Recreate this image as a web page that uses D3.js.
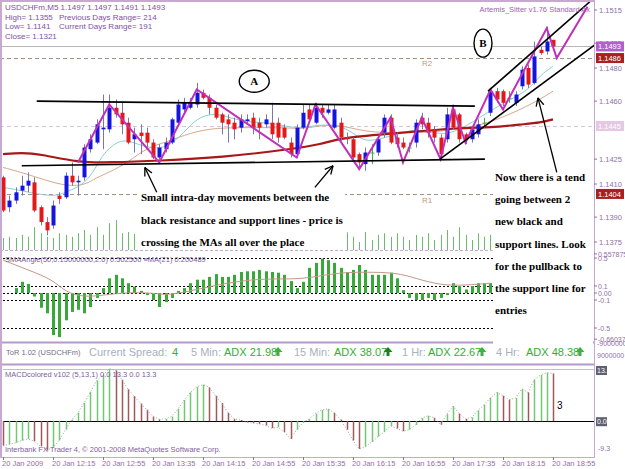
<!DOCTYPE html>
<meta charset="utf-8">
<style>
    body { margin: 0; background: #fff; }
    svg text { font-family: "Liberation Sans", Arial, sans-serif; }
    .note { font-family: "Liberation Serif", "Times New Roman", serif; font-weight: bold; font-size: 11px; fill: #000; }
</style>
<svg width="625" height="469"></svg>
<script src="https://cdn.jsdelivr.net/npm/d3@7"></script>
<script>

    // ---- data (M5 bars, 20 Jan 11:35 .. 18:55) ----
    const open = [
        1.1414,1.1396,1.1400,1.1406,1.1409,1.1411,1.1396,1.1387,1.1385,1.1403,
        1.1402,1.1415,1.1411,1.1414,1.1431,1.1435,1.1443,1.1443,1.1456,1.1453,
        1.1447,1.1437,1.1441,1.1441,1.1435,1.1426,1.1431,1.1435,1.1447,1.1455,
        1.1456,1.1458,1.1465,1.1462,1.1456,1.1452,1.1449,1.1447,1.1444,1.1448,
        1.1450,1.1447,1.1446,1.1447,1.1447,1.1444,1.1435,1.1428,1.1444,1.1455,
        1.1447,1.1456,1.1453,1.1444,1.1447,1.1438,1.1437,1.1428,1.1422,1.1429,
        1.1429,1.1441,1.1450,1.1438,1.1435,1.1432,1.1435,1.1450,1.1447,1.1443,
        1.1438,1.1437,1.1455,1.1452,1.1440,1.1437,1.1440,1.1447,1.1453,1.1466,
        1.1466,1.1462,1.1459,1.1469,1.1480,1.1471,1.1491,1.1490,1.1497];
    const high = [
        1.1415,1.1403,1.1408,1.1415,1.1417,1.1414,1.1397,1.1390,1.1400,1.1405,
        1.1417,1.1423,1.1415,1.1434,1.1440,1.1449,1.1464,1.1464,1.1461,1.1459,
        1.1450,1.1444,1.1446,1.1444,1.1437,1.1434,1.1438,1.1450,1.1461,1.1462,
        1.1462,1.1471,1.1467,1.1464,1.1458,1.1453,1.1452,1.1450,1.1452,1.1452,
        1.1453,1.1450,1.1452,1.1459,1.1450,1.1446,1.1438,1.1446,1.1458,1.1458,
        1.1459,1.1458,1.1458,1.1458,1.1450,1.1441,1.1438,1.1429,1.1432,1.1434,
        1.1438,1.1452,1.1452,1.1441,1.1438,1.1435,1.1449,1.1453,1.1450,1.1445,
        1.1440,1.1456,1.1458,1.1453,1.1441,1.1444,1.1449,1.1450,1.1468,1.1468,
        1.1467,1.1466,1.1466,1.1481,1.1482,1.1496,1.1493,1.1505,1.1497];
    const low = [
        1.1393,1.1393,1.1398,1.1403,1.1405,1.1393,1.1385,1.1379,1.1383,1.1398,
        1.1401,1.1409,1.1403,1.1412,1.1429,1.1434,1.1431,1.1441,1.1450,1.1440,
        1.1434,1.1429,1.1428,1.1432,1.1425,1.1423,1.1429,1.1434,1.1446,1.1453,
        1.1455,1.1456,1.1461,1.1452,1.1449,1.1440,1.1435,1.1437,1.1441,1.1446,
        1.1440,1.1437,1.1444,1.1437,1.1435,1.1437,1.1426,1.1426,1.1443,1.1447,
        1.1446,1.1450,1.1452,1.1443,1.1436,1.1434,1.1425,1.1420,1.1418,1.1422,
        1.1427,1.1438,1.1434,1.1432,1.1431,1.1429,1.1432,1.1443,1.1438,1.1435,
        1.1425,1.1435,1.1443,1.1435,1.1434,1.1435,1.1438,1.1444,1.1451,1.1459,
        1.1457,1.1459,1.1457,1.1467,1.1468,1.1470,1.1488,1.1488,1.1491];
    const close = [
        1.1394,1.1400,1.1405,1.1409,1.1412,1.1394,1.1387,1.1382,1.1397,1.1401,
        1.1415,1.1411,1.1412,1.1432,1.1437,1.1446,1.1444,1.1456,1.1452,1.1446,
        1.1435,1.1440,1.1439,1.1435,1.1426,1.1432,1.1435,1.1449,1.1458,1.1459,
        1.1459,1.1465,1.1462,1.1456,1.1450,1.1447,1.1446,1.1443,1.1449,1.1449,
        1.1444,1.1444,1.1449,1.1440,1.1438,1.1438,1.1428,1.1444,1.1453,1.1449,
        1.1456,1.1453,1.1455,1.1455,1.1438,1.1437,1.1426,1.1423,1.1429,1.1429,
        1.1437,1.1450,1.1435,1.1434,1.1432,1.1432,1.1447,1.1446,1.1441,1.1438,
        1.1428,1.1452,1.1444,1.1437,1.1437,1.1443,1.1446,1.1447,1.1466,1.1461,
        1.1459,1.1462,1.1464,1.1479,1.1470,1.1487,1.1489,1.1496,1.1493];
    const volume = [
        30,33,30,38,33,57,42,33,30,42, 38,33,42,50,38,57,38,67,75,42,
        45,40,35,48,52,40,38,45,55,60, 42,38,50,44,36,40,47,52,39,35,
        41,46,50,38,44,55,49,37,42,60, 45,40,36,48,52,44,33,20,45,25,
        38,42,33,42,33,25,38,33,42,25, 38,50,33,57,38,25,42,33,38,45,
        40,36,52,48,55,60,50,44,30];

    // moving averages, sampled [bar, price]
    const maSlow = [[0,1.1428],[3,1.1429],[6,1.1428],[12,1.1423],[17,1.1423],[25,1.1424],[35,1.1426],
        [46,1.1431],[51,1.1434],[54,1.1438],[64,1.1441],[73,1.1444],[78,1.1444],[83,1.1446],[86,1.1447],[88,1.1449]];
    const maFast = [[0,1.1408],[3,1.1406],[8,1.1402],[10,1.1405],[12,1.1408],[14,1.1414],[15.5,1.1425],[17,1.1432],
        [19,1.1437],[21,1.1435],[23,1.1432],[26,1.1431],[29,1.1441],[31,1.1450],[34,1.1453],[36,1.1450],[40,1.1447],
        [43,1.1447],[46,1.1444],[48,1.1444],[53,1.1447],[56,1.1441],[58,1.1435],[61,1.1438],[64,1.1441],[66,1.1443],
        [69,1.1441],[71,1.1440],[73,1.1443],[75,1.1447],[80,1.1459],[84,1.1466],[86,1.1476],[88,1.1481]];
    const maMid = [[0,1.1420],[3,1.1417],[7,1.1412],[10,1.1409],[13,1.1409],[15,1.1414],[17,1.1417],[20,1.1423],
        [23,1.1432],[26,1.1435],[30,1.1441],[34,1.1444],[40,1.1444],[46,1.1444],[48,1.1443],[53,1.1447],[58,1.1441],
        [64,1.1441],[69,1.1441],[73,1.1444],[75,1.1444],[80,1.1450],[85,1.1459],[88,1.1466]];

    const zigzag = [[12,1.1423],[17,1.1458],[25,1.1423],[31,1.1467],[47,1.1426],[50,1.1458],[57,1.1419],[62,1.1450],
        [64,1.1423],[67,1.1450],[70,1.1425],[72,1.1456],[74,1.1435],[78,1.1467],[80,1.1455],[87,1.1504],[88.6,1.1486],[93.5,1.1517]];

    const trendLines = [
        [[5.4,1.1460],[75.5,1.1457]],
        [[3,1.1421],[77.1,1.1425]],
        [[69.9,1.1425],[94.7,1.1494]],
        [[77.6,1.1466],[93.9,1.1520]]];
    const arrows = [
        [[24.6,1.1405],[22.7,1.1420]],
        [[49.9,1.1408],[52.8,1.1421]],
        [[88.6,1.1417],[85.6,1.1462]]];

    const levelClose = 1.1493, levelR2 = 1.1486, levelPivot = 1.1445, levelR1 = 1.1404;
    const priceTicks = [1.1515, 1.1495, 1.1480, 1.1460, 1.1425, 1.1410, 1.1390, 1.1375];

    const smaAngle = [
        0,0,0.07,0.16,0.13,-0.05,-0.21,-0.29,-0.60,-0.63, -0.39,-0.27,-0.24,-0.29,-0.20,-0.07,0.07,0.21,0.26,0.21,
        0.14,0.09,0.03,-0.03,-0.10,-0.20,-0.13,-0.07,0.03,0.07, 0.14,0.19,0.19,0.23,0.27,0.23,0.23,0.26,0.30,0.31,
        0.31,0.33,0.31,0.30,0.29,0.26,0.17,0.07,0.16,0.36, 0.43,0.49,0.47,0.43,0.36,0.30,0.33,0.40,0.33,0.26,
        0.26,0.26,0.29,0.21,0.04,-0.07,-0.10,-0.10,-0.07,-0.10, -0.07,-0.03,0.14,0.10,0.05,0.10,0.14,0.14,0.14,0.20,
        0.22,0.25,0.30,0.38,0.42,0.48,0.50,0.52,0.50];
    const smaAngleMA = [[0,0.47],[4,0.33],[8,0.19],[10,0.01],[13,-0.06],[16,-0.03],[20,0.01],[24,0.0],[26,-0.03],
        [29,0.01],[33,0.09],[37,0.16],[42,0.21],[48,0.19],[53,0.29],[58,0.30],[63,0.29],[66,0.21],[70,0.11],[74,0.11],[78,0.14]];
    const smaLevels = [0.5, 0.1, 0, -0.1, -0.5];

    const macd = [
        -6.4,-6.0,-5.6,-5.0,-4.6,-5.2,-6.5,-7.6,-6.8,-5.0, -2.2,0.4,2.2,4.8,7.6,10.6,12.0,13.6,13.2,10.8,
        8.3,6.5,4.6,3.0,1.2,0.5,0.6,1.2,3.2,5.5, 7.5,8.9,9.5,8.8,6.6,4.7,2.2,0.6,0.3,-0.3,
        -0.5,-0.7,-1.1,-1.8,-1.6,-2.8,-4.6,-2.2,-0.4,0.6, 2.0,2.9,3.2,2.2,0.4,-2.2,-5.0,-7.2,-6.6,-5.4,
        -4.0,-2.8,-1.2,-1.9,-2.6,-2.2,-1.0,0.8,1.4,0.9, -0.9,1.8,3.9,2.0,0.6,1.0,2.8,4.3,6.1,7.5,
        6.6,5.6,6.0,8.4,7.5,10.8,12.0,12.6,12.4];

    const dateLabels = ["20 Jan 2009","20 Jan 12:15","20 Jan 12:55","20 Jan 13:35","20 Jan 14:15","20 Jan 14:55",
        "20 Jan 15:35","20 Jan 16:15","20 Jan 16:55","20 Jan 17:35","20 Jan 18:15","20 Jan 18:55"];
    const dateBars = [0,8,16,24,32,40,48,56,64,72,80,88];

    const adxLabels = ["5 Min:","15 Min:","1 Hr:","4 Hr:"];
    const adxValues = [21.98, 38.07, 22.67, 48.38];

    // ---- layout ----
    const FRAME = "#c8a8d0", AXIS_TXT = "#9070a8", RIGHT = 594;
    const svg = d3.select("svg");
    const n = close.length;

    const x = d3.scaleLinear().domain([0, 88]).range([3, 553]);
    const y = d3.scaleLinear().domain([1.1375, 1.1515]).range([242, 10]);
    const yVol = d3.scaleLinear().domain([0, 75]).range([250, 220]);
    const ySma = d3.scaleLinear().domain([-0.5, 0.5]).range([328, 258]);
    const yMacd = d3.scaleLinear().domain([-9.3, 13.3]).range([457, 370]);
    const px = i => Math.round(x(i)) + 0.5;

    svg.append("rect").attr("width", 625).attr("height", 469).attr("fill", "#fff");

    const defs = svg.append("defs");
    defs.append("clipPath").attr("id", "cpPrice").append("rect").attr("x", 2).attr("y", 2).attr("width", RIGHT - 2).attr("height", 248);

    // ---------------- price panel ----------------
    const gp = svg.append("g").attr("clip-path", "url(#cpPrice)");

    gp.append("line").attr("x1", 0).attr("x2", RIGHT).attr("y1", Math.round(y(levelClose)) + 0.5).attr("y2", Math.round(y(levelClose)) + 0.5)
        .attr("stroke", "#b8b8b8");
    [[levelR2, "#a89080"], [levelPivot, "#dcc4d8"], [levelR1, "#a89080"]].forEach(function (l) {
        gp.append("line").attr("x1", 0).attr("x2", RIGHT)
            .attr("y1", Math.round(y(l[0])) + 0.5).attr("y2", Math.round(y(l[0])) + 0.5)
            .attr("stroke", l[1]).attr("stroke-width", 1.2).attr("stroke-dasharray", "4,3");
    });
    gp.append("text").attr("x", 422).attr("y", y(levelR2) + 8).attr("font-size", 8).attr("fill", "#c09878").text("R2");
    gp.append("text").attr("x", 422).attr("y", y(levelR1) + 9).attr("font-size", 8).attr("fill", "#c09878").text("R1");

    // volume
    gp.append("g").selectAll("line").data(volume).enter().append("line")
        .attr("x1", (d, i) => px(i)).attr("x2", (d, i) => px(i))
        .attr("y1", 250).attr("y2", d => yVol(d))
        .attr("stroke", "#6cbc6c").attr("stroke-width", 1);

    // moving averages
    const maLine = d3.line().x(d => x(d[0])).y(d => y(d[1])).curve(d3.curveBasis);
    gp.append("path").datum(maMid).attr("d", maLine).attr("fill", "none").attr("stroke", "#d8a888").attr("stroke-width", 1);
    gp.append("path").datum(maFast).attr("d", maLine).attr("fill", "none").attr("stroke", "#88d0d0").attr("stroke-width", 1);
    gp.append("path").datum(maSlow).attr("d", maLine).attr("fill", "none").attr("stroke", "#a81818").attr("stroke-width", 2.2);

    // candles
    const bars = d3.range(n);
    const candle = gp.append("g").selectAll("g").data(bars).enter().append("g");
    candle.append("line")
        .attr("x1", i => px(i)).attr("x2", i => px(i))
        .attr("y1", i => y(high[i])).attr("y2", i => y(low[i]))
        .attr("stroke", i => close[i] === open[i] ? "#40b040" : "#7878a8");
    candle.append("rect")
        .attr("x", i => Math.round(x(i)) - 1.5)
        .attr("width", 4)
        .attr("y", i => y(Math.max(open[i], close[i])))
        .attr("height", i => Math.max(1, y(Math.min(open[i], close[i])) - y(Math.max(open[i], close[i]))))
        .attr("fill", i => close[i] > open[i] ? "#1414e0" : close[i] < open[i] ? "#e41818" : "#40b040");

    // zigzag
    gp.append("path").datum(zigzag)
        .attr("d", d3.line().x(d => x(d[0])).y(d => y(d[1])))
        .attr("fill", "none").attr("stroke", "#c030b8").attr("stroke-width", 2);

    // trend lines
    trendLines.forEach(function (t) {
        gp.append("line").attr("x1", x(t[0][0])).attr("y1", y(t[0][1]))
            .attr("x2", x(t[1][0])).attr("y2", y(t[1][1]))
            .attr("stroke", "#000").attr("stroke-width", 1.6);
    });

    // circled letters
    [["A", 40.2, 1.1472, 15, 11], ["B", 76.8, 1.1495, 9, 14]].forEach(function (c) {
        gp.append("ellipse").attr("cx", x(c[1])).attr("cy", y(c[2])).attr("rx", c[3]).attr("ry", c[4])
            .attr("fill", "#fff").attr("stroke", "#000").attr("stroke-width", 1.4);
        gp.append("text").attr("class", "note").attr("x", x(c[1])).attr("y", y(c[2]) + 4)
            .attr("text-anchor", "middle").attr("font-size", 10).text(c[0]);
    });

    // header texts
    const info = [["USDCHFm,M5  1.1497 1.1497 1.1491 1.1493", ""],
        ["High= 1.1355", "Previous Days Range= 214"],
        ["Low= 1.1141", "Current Days Range= 191"],
        ["Close= 1.1321", ""]];
    info.forEach(function (r, k) {
        gp.append("text").attr("x", 5).attr("y", 10 + k * 9.5).attr("font-size", 8).attr("fill", "#8050a8").text(r[0]);
        if (r[1]) gp.append("text").attr("x", 59).attr("y", 10 + k * 9.5).attr("font-size", 8).attr("fill", "#8050a8").text(r[1]);
    });
    gp.append("text").attr("x", 590).attr("y", 12).attr("text-anchor", "end").attr("font-size", 7.5)
        .attr("fill", "#a060b0").text("Artemis_Sitter v1.76 Standard Ax");

    // price axis
    svg.append("line").attr("x1", RIGHT + 0.5).attr("x2", RIGHT + 0.5).attr("y1", 0).attr("y2", 458).attr("stroke", FRAME);
    priceTicks.forEach(function (p) {
        svg.append("line").attr("x1", RIGHT).attr("x2", RIGHT + 3).attr("y1", y(p)).attr("y2", y(p)).attr("stroke", AXIS_TXT);
        svg.append("text").attr("x", 599).attr("y", y(p) + 3).attr("font-size", 7.5).attr("fill", AXIS_TXT).text(p.toFixed(4));
    });
    [[levelClose, "#b060c8"], [levelR2, "#a82020"], [levelPivot, "#e4c8e4"], [levelR1, "#a82020"]].forEach(function (b) {
        svg.append("rect").attr("x", 596).attr("y", y(b[0]) - 5).attr("width", 28).attr("height", 10).attr("fill", b[1]);
        svg.append("text").attr("x", 598).attr("y", y(b[0]) + 3).attr("font-size", 7.5).attr("fill", "#fff").text(b[0].toFixed(4));
    });

    svg.append("line").attr("x1", 0).attr("x2", RIGHT).attr("y1", 250.5).attr("y2", 250.5).attr("stroke", FRAME).attr("stroke-dasharray", "3,2");

    // ---------------- SMA angle panel ----------------
    const gs = svg.append("g");
    smaLevels.forEach(function (v) {
        gs.append("line").attr("x1", 3).attr("x2", RIGHT).attr("y1", Math.round(ySma(v)) + 0.5).attr("y2", Math.round(ySma(v)) + 0.5)
            .attr("stroke", "#000").attr("stroke-dasharray", "2,2");
    });
    gs.selectAll("rect.h").data(smaAngle).enter().append("rect")
        .attr("x", (d, i) => Math.round(x(i)) - 1).attr("width", 3)
        .attr("y", d => ySma(Math.max(0, d))).attr("height", d => Math.abs(ySma(d) - ySma(0)))
        .attr("fill", "#38a838");
    gs.append("path").datum(smaAngleMA)
        .attr("d", d3.line().x(d => x(d[0])).y(d => ySma(d[1])).curve(d3.curveBasis))
        .attr("fill", "none").attr("stroke", "#c09888").attr("stroke-width", 1);
    gs.append("text").attr("x", 5).attr("y", 262).attr("font-size", 7.5).attr("fill", "#8060a0")
        .text("SMAAngle(50,0.15000000,2.0) 0.502500  \u2261MA(21) 0.200489");
    [["0.557875", 0.557875], ["0.5", 0.5], ["0.1", 0.1], ["0.00", 0], ["-0.1", -0.1], ["-0.5", -0.5], ["-0.660375", -0.660375]].forEach(function (t) {
        svg.append("line").attr("x1", RIGHT).attr("x2", RIGHT + 3).attr("y1", ySma(t[1])).attr("y2", ySma(t[1])).attr("stroke", AXIS_TXT);
        svg.append("text").attr("x", 598).attr("y", ySma(t[1]) + 3).attr("font-size", 7).attr("fill", AXIS_TXT).text(t[0]);
    });
    svg.append("line").attr("x1", 0).attr("x2", RIGHT).attr("y1", 342.5).attr("y2", 342.5).attr("stroke", "#b898c8").attr("stroke-width", 2);

    // ---------------- ToR row ----------------
    svg.append("text").attr("x", 6).attr("y", 355).attr("font-size", 7.5).attr("fill", "#707088").text("ToR 1.02 (USDCHFm)");
    svg.append("text").attr("x", 89).attr("y", 356).attr("font-size", 11).attr("fill", "#a8b0c0").text("Current Spread:");
    svg.append("text").attr("x", 172).attr("y", 356).attr("font-size", 11).attr("fill", "#30b030").text("4");
    const adxX = [191, 294, 402, 496], adxValX = [224, 334, 428, 526], iconX = [278, 388, 482, 580];
    adxLabels.forEach(function (l, k) {
        svg.append("text").attr("x", adxX[k]).attr("y", 356).attr("font-size", 11).attr("fill", "#a8b0c0").text(l);
        svg.append("text").attr("x", adxValX[k]).attr("y", 356).attr("font-size", 11).attr("fill", "#30b030").text("ADX " + adxValues[k].toFixed(2));
        svg.append("path").attr("transform", "translate(" + iconX[k] + ",352)")
            .attr("d", "M0,-5L4.5,0L1.5,0L1.5,4L-1.5,4L-1.5,0L-4.5,0Z").attr("fill", k === 1 ? "#208020" : "#40b040");
    });
    svg.append("text").attr("x", 597).attr("y", 346).attr("font-size", 7).attr("fill", AXIS_TXT).text("-9000000");
    svg.append("text").attr("x", 597).attr("y", 358).attr("font-size", 7).attr("fill", AXIS_TXT).text("9000000");
    svg.append("line").attr("x1", 0).attr("x2", RIGHT).attr("y1", 364.5).attr("y2", 364.5).attr("stroke", "#b898c8").attr("stroke-width", 2);

    // ---------------- MACD panel ----------------
    const gm = svg.append("g");
    gm.append("line").attr("x1", 3).attr("x2", RIGHT).attr("y1", 369.5).attr("y2", 369.5).attr("stroke", "#c0c0c0");
    gm.append("line").attr("x1", 3).attr("x2", RIGHT).attr("y1", Math.round(yMacd(0)) + 0.5).attr("y2", Math.round(yMacd(0)) + 0.5).attr("stroke", "#000");
    gm.selectAll("line.m").data(macd).enter().append("line")
        .attr("x1", (d, i) => px(i)).attr("x2", (d, i) => px(i))
        .attr("y1", yMacd(0)).attr("y2", d => yMacd(d))
        .attr("stroke", (d, i) => i > 0 && d < macd[i - 1] ? "#a05858" : (i === 0 ? "#a05858" : "#70c870"))
        .attr("stroke-width", 1.5);
    gm.append("path").datum(macd)
        .attr("d", d3.line().x((d, i) => x(i)).y(d => yMacd(d)))
        .attr("fill", "none").attr("stroke", "#a0a0a0").attr("stroke-dasharray", "1,2");
    gm.append("text").attr("x", 5).attr("y", 377).attr("font-size", 7.5).attr("fill", "#8060a0").text("MACDcolored v102 (5,13,1) 0.0 13.3 0.0 13.3");
    gm.append("text").attr("x", 5).attr("y", 452).attr("font-size", 7.5).attr("fill", "#8060a0").text("Interbank FX Trader 4, \u00a9 2001-2008 MetaQuotes Software Corp.");
    gm.append("text").attr("x", 557).attr("y", 409).attr("font-size", 10).attr("fill", "#000").text("3");

    [["13.3", 13.3], ["0.00", 0]].forEach(function (t) {
        svg.append("rect").attr("x", 596).attr("y", yMacd(t[1]) - 4).attr("width", 11).attr("height", 9).attr("fill", "#606070");
        svg.append("text").attr("x", 597).attr("y", yMacd(t[1]) + 3).attr("font-size", 7).attr("fill", "#fff").text(t[0]);
    });
    svg.append("text").attr("x", 598).attr("y", 451).attr("font-size", 7).attr("fill", AXIS_TXT).text("-9.3");
    svg.append("line").attr("x1", 0).attr("x2", RIGHT).attr("y1", 457.5).attr("y2", 457.5).attr("stroke", FRAME);

    // time axis
    dateBars.forEach(function (b, k) {
        svg.append("line").attr("x1", px(b)).attr("x2", px(b)).attr("y1", 457).attr("y2", 460).attr("stroke", AXIS_TXT);
        svg.append("text").attr("x", x(b) - 1).attr("y", 466).attr("font-size", 7.5).attr("fill", AXIS_TXT).text(dateLabels[k]);
    });

    // ---------------- annotation boxes ----------------
    svg.append("rect").attr("x", 140).attr("y", 186).attr("width", 205).attr("height", 64).attr("fill", "#fff");
    svg.append("rect").attr("x", 493).attr("y", 168).attr("width", 100).attr("height", 176).attr("fill", "#fff");

    ["Small intra-day movements between the", "black resistance and support lines - price is", "crossing the MAs all over the place"]
        .forEach(function (s, k) {
            svg.append("text").attr("class", "note").attr("x", 141).attr("y", 201 + k * 22.5).text(s);
        });
    ["Now there is a tend", "going between 2", "new black and", "support lines. Look", "for the pullback to", "the support line for", "entries"]
        .forEach(function (s, k) {
            svg.append("text").attr("class", "note").attr("x", 495).attr("y", 181 + k * 22.2).text(s);
        });

    // arrows
    arrows.forEach(function (a) {
        const x1 = x(a[0][0]), y1 = y(a[0][1]), x2 = x(a[1][0]), y2 = y(a[1][1]);
        const ang = Math.atan2(y2 - y1, x2 - x1), L = 9;
        svg.append("line").attr("x1", x1).attr("y1", y1).attr("x2", x2).attr("y2", y2).attr("stroke", "#000").attr("stroke-width", 1.3);
        [-0.45, 0.45].forEach(function (d) {
            svg.append("line").attr("x1", x2).attr("y1", y2)
                .attr("x2", x2 - L * Math.cos(ang + d)).attr("y2", y2 - L * Math.sin(ang + d))
                .attr("stroke", "#000").attr("stroke-width", 1.3);
        });
    });

    // outer frame
    svg.append("line").attr("x1", 1).attr("x2", 1).attr("y1", 0).attr("y2", 458).attr("stroke", FRAME).attr("stroke-width", 2);
    svg.append("line").attr("x1", 0).attr("x2", RIGHT).attr("y1", 1).attr("y2", 1).attr("stroke", FRAME).attr("stroke-width", 2);

</script>
